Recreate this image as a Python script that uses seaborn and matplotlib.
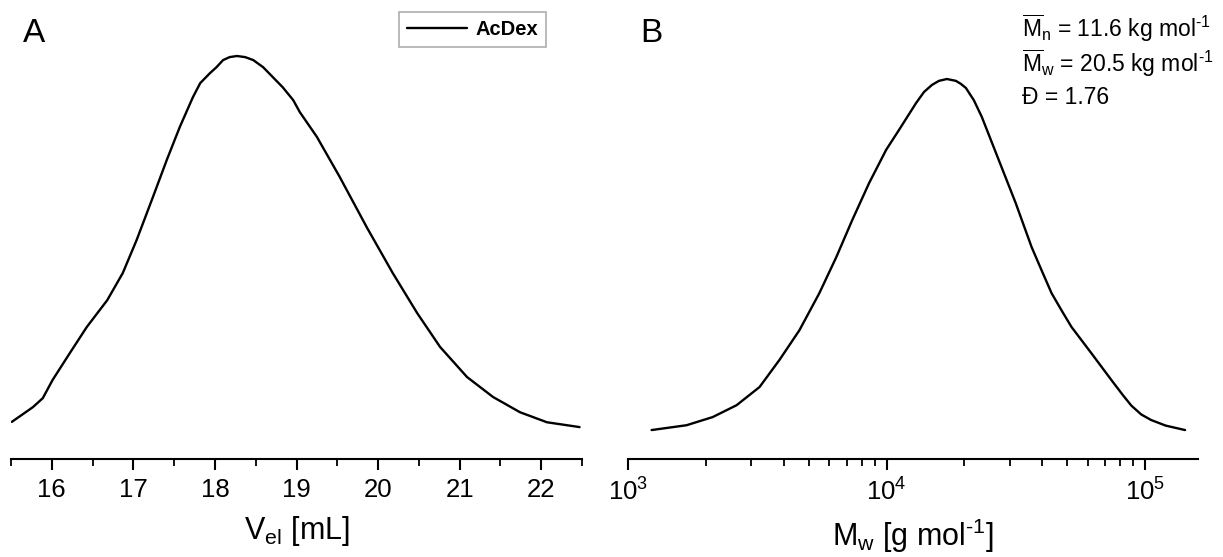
import matplotlib
matplotlib.use("Agg")
import matplotlib.pyplot as plt
import matplotlib.ticker as mticker
import pandas as pd
import seaborn as sns

# elution curve, panel A (V_el in mL, normalised RI signal)
vel = [15.51, 15.77, 15.89, 16.01, 16.22, 16.43, 16.68, 16.87, 17.04, 17.24,
       17.41, 17.57, 17.73, 17.82, 17.94, 18.02, 18.10, 18.18, 18.27, 18.37,
       18.47, 18.59, 18.71, 18.83, 18.96, 19.04, 19.25, 19.53, 19.86, 20.18,
       20.48, 20.76, 21.09, 21.41, 21.74, 22.07, 22.47]
signal_a = [0.014, 0.054, 0.078, 0.127, 0.199, 0.270, 0.342, 0.415, 0.504, 0.620,
            0.720, 0.809, 0.889, 0.927, 0.954, 0.970, 0.989, 0.997, 1.000, 0.997,
            0.989, 0.970, 0.943, 0.916, 0.881, 0.849, 0.782, 0.674, 0.539, 0.415,
            0.307, 0.216, 0.135, 0.081, 0.040, 0.013, 0.000]

# molar mass distribution, panel B (g/mol)
mw = [1234, 1684, 2126, 2630, 3227, 3852, 4601, 5495, 6389, 7366,
      8563, 9957, 11173, 12993, 13950, 14972, 15935, 17109, 18530, 19360,
      20250, 21740, 23336, 27133, 31550, 36370, 39720, 43430, 47430, 51850,
      61930, 73960, 82000, 88350, 96520, 105450, 120000, 142600]
signal_b = [-0.008, 0.005, 0.027, 0.059, 0.108, 0.181, 0.261, 0.361, 0.458, 0.558,
            0.658, 0.747, 0.801, 0.873, 0.903, 0.922, 0.933, 0.938, 0.933, 0.925,
            0.914, 0.881, 0.836, 0.720, 0.604, 0.485, 0.423, 0.361, 0.315, 0.270,
            0.199, 0.127, 0.086, 0.058, 0.034, 0.019, 0.004, -0.008]

sample = "AcDex"
stats_lines = [r"$\overline{\mathrm{M}}_\mathrm{n}$ = 11.6 kg mol$^{\text{-1}}$",
               r"$\overline{\mathrm{M}}_\mathrm{w}$ = 20.5 kg mol$^{\text{-1}}$",
               "Đ = 1.76"]

sns.set_style("ticks")
plt.rcParams['font.family'] = ['Liberation Sans', 'DejaVu Sans']
plt.rcParams['mathtext.fontset'] = 'custom'
plt.rcParams['mathtext.rm'] = 'Liberation Sans'
plt.rcParams['mathtext.it'] = 'Liberation Sans:italic'
plt.rcParams['mathtext.bf'] = 'Liberation Sans:bold'
plt.rcParams['text.color'] = 'black'
plt.rcParams['xtick.color'] = 'black'
plt.rcParams['axes.labelcolor'] = 'black'
plt.rcParams['axes.edgecolor'] = 'black'

df_a = pd.DataFrame({'vel': vel, 'signal': signal_a, 'sample': sample})
df_b = pd.DataFrame({'mw': mw, 'signal': signal_b, 'sample': sample})

W, H = 1223, 557
fig = plt.figure(figsize=(W / 100, H / 100), dpi=100)
ax_a = fig.add_axes([11 / W, 1 - 459 / H, 571 / W, 439 / H])
ax_b = fig.add_axes([628 / W, 1 - 459 / H, 570 / W, 439 / H])

sns.lineplot(data=df_a, x='vel', y='signal', hue='sample', palette=['black'],
             sort=False, estimator=None, linewidth=1.7, ax=ax_a)
sns.lineplot(data=df_b, x='mw', y='signal', color='black',
             sort=False, estimator=None, linewidth=1.7, ax=ax_b, legend=False)

for ax in (ax_a, ax_b):
    ax.set_ylim(-0.086, 1.097)
    ax.set_yticks([])
    ax.set_ylabel('')
    for side in ('left', 'top', 'right'):
        ax.spines[side].set_visible(False)
    ax.spines['bottom'].set_linewidth(1.5)
    ax.tick_params(axis='x', which='major', direction='out', length=8, width=1.5,
                   labelsize=18.5, pad=6, color='black', labelcolor='black')
    ax.tick_params(axis='x', which='minor', direction='out', length=5, width=1.3,
                   color='black')

ax_a.set_xlim(15.5, 22.5)
ax_a.xaxis.set_major_locator(mticker.MultipleLocator(1))
ax_a.xaxis.set_minor_locator(mticker.MultipleLocator(0.5))
ax_a.set_xlabel(r"V$_\mathrm{el}$ [mL]", fontsize=22, labelpad=8)

ax_b.set_xscale('log')
ax_b.set_xlim(1e3, 1.6e5)
ax_b.xaxis.set_major_locator(mticker.LogLocator(base=10))
ax_b.xaxis.set_minor_locator(mticker.LogLocator(base=10, subs=range(2, 10)))
ax_b.xaxis.set_minor_formatter(mticker.NullFormatter())
ax_b.set_xlabel(r"M$_\mathrm{w}$ [g mol$^{\text{-1}}$]", fontsize=22, labelpad=8)

leg = ax_a.legend(loc='upper right', bbox_to_anchor=(546 / W, 1 - 12 / H),
                  bbox_transform=fig.transFigure, borderaxespad=0,
                  fancybox=False, frameon=True, handlelength=3.0,
                  handletextpad=0.4, borderpad=0.4,
                  prop={'size': 14.5, 'weight': 'bold'})
leg.get_frame().set_edgecolor('#999999')
leg.get_frame().set_linewidth(1.2)
leg.set_title(None)

fig.text(23 / W, 1 - 34 / H, "A", fontsize=24, ha='left', va='center')
fig.text(640 / W, 1 - 34 / H, "B", fontsize=24, ha='left', va='center')
for i, line in enumerate(stats_lines):
    fig.text(1022 / W, 1 - (28 + 35 * i) / H, line, fontsize=16.5, ha='left', va='center')

fig.savefig("out.png", dpi=100)
